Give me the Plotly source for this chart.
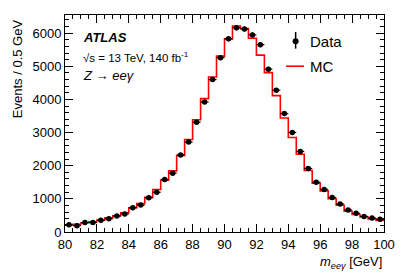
import numpy as np
import plotly.graph_objects as go

bin_edges_start = 80.0
bin_width = 0.5
data = [220, 190, 285, 285, 355, 400, 480, 545, 730, 815, 1035, 1200, 1585, 1775,
        2325, 2715, 3315, 3925, 4600, 5260, 5830, 6165, 6130, 5950, 5655, 4915,
        4280, 3575, 3005, 2430, 1918, 1502, 1285, 1040, 843, 663, 563, 470, 420, 382]
mc = [210, 235, 280, 310, 360, 430, 490, 580, 730, 860, 1045, 1285, 1560, 1845,
      2310, 2790, 3390, 4026, 4680, 5310, 5830, 6220, 6140, 5850, 5340, 4810,
      4115, 3440, 2852, 2345, 1857, 1476, 1240, 1005, 808, 628, 527, 452, 397, 351]

n = len(data)
centers = [bin_edges_start + bin_width * (i + 0.5) for i in range(n)]
edges = [bin_edges_start + bin_width * i for i in range(n + 1)]

# step line for MC
sx, sy = [], []
for i in range(n):
    sx += [edges[i], edges[i + 1]]
    sy += [mc[i], mc[i]]

fig = go.Figure()
fig.add_trace(go.Scatter(x=sx, y=sy, mode="lines", line=dict(color="#ff0000", width=1.6),
                         name="MC", showlegend=False, hoverinfo="skip"))
fig.add_trace(go.Scatter(
    x=centers, y=data, mode="markers",
    marker=dict(color="black", size=5.5),
    error_y=dict(type="data", array=list(np.sqrt(data)), color="black", thickness=1.2, width=0),
    error_x=dict(type="constant", value=bin_width / 2, color="black", thickness=1.2, width=0),
    showlegend=False, name="Data"))

font = "Liberation Sans, Arial, Helvetica, sans-serif"

fig.update_layout(
    width=407, height=277,
    margin=dict(l=65, r=20, t=15, b=45),
    paper_bgcolor="white", plot_bgcolor="white",
    font=dict(family=font, size=13, color="black"),
    showlegend=False,
)
fig.update_xaxes(
    range=[80, 100], tickmode="linear", tick0=80, dtick=2,
    ticks="inside", ticklen=8, tickwidth=1, tickcolor="black",
    minor=dict(ticks="inside", dtick=0.5, ticklen=4, tickcolor="black"),
    showline=True, linecolor="black", linewidth=1, mirror="allticks",
    showgrid=False, zeroline=False, tickfont=dict(size=13),
)
fig.update_yaxes(
    range=[0, 6550], tickmode="linear", tick0=0, dtick=1000,
    ticks="inside", ticklen=8, tickwidth=1, tickcolor="black",
    minor=dict(ticks="inside", dtick=200, ticklen=4, tickcolor="black"),
    showline=True, linecolor="black", linewidth=1, mirror="allticks",
    showgrid=False, zeroline=False, tickfont=dict(size=13),
)

ann = []
ann.append(dict(text="Events / 0.5 GeV", xref="paper", yref="paper", x=-0.149, y=0.99,
                xanchor="center", yanchor="top", textangle=-90, showarrow=False,
                font=dict(size=13)))
ann.append(dict(text="<i>m</i><sub><i>ee\u03b3</i></sub> [GeV]", xref="paper", yref="paper",
                x=1.0, y=-0.141, xanchor="right", yanchor="middle", showarrow=False,
                font=dict(size=13)))
ann.append(dict(text="<b><i>ATLAS</i></b>", xref="paper", yref="paper", x=0.05, y=0.896,
                xanchor="left", yanchor="middle", showarrow=False, font=dict(size=13)))
ann.append(dict(text="\u221as = 13 TeV, 140 fb<sup>-1</sup>", xref="paper", yref="paper",
                x=0.05, y=0.807, xanchor="left", yanchor="middle", showarrow=False,
                font=dict(size=11.5)))
ann.append(dict(text="<i>Z</i> \u2192 <i>ee\u03b3</i>", xref="paper", yref="paper",
                x=0.05, y=0.7225, xanchor="left", yanchor="middle", showarrow=False,
                font=dict(size=13)))
ann.append(dict(text="Data", xref="paper", yref="paper", x=0.762, y=0.879,
                xanchor="left", yanchor="middle", showarrow=False, font=dict(size=15)))
ann.append(dict(text="MC", xref="paper", yref="paper", x=0.762, y=0.764,
                xanchor="left", yanchor="middle", showarrow=False, font=dict(size=15)))
fig.update_layout(annotations=ann)

# legend symbols
fig.add_shape(type="line", xref="paper", yref="paper", x0=0.723, x1=0.723, y0=0.845, y1=0.922,
              line=dict(color="black", width=1.5))
fig.add_shape(type="line", xref="paper", yref="paper", x0=0.693, x1=0.749, y0=0.764, y1=0.764,
              line=dict(color="#ff0000", width=1.6))
fig.add_trace(go.Scatter(x=[0.723], y=[0.879], xaxis="x2", yaxis="y2", mode="markers",
                         marker=dict(color="black", size=6), showlegend=False, hoverinfo="skip"))
fig.update_layout(
    xaxis2=dict(overlaying="x", range=[0, 1], visible=False, domain=[0, 1]),
    yaxis2=dict(overlaying="y", range=[0, 1], visible=False),
)

fig.write_html("out.html", config={"displayModeBar": False},
               post_script="document.body.style.margin='0';")
